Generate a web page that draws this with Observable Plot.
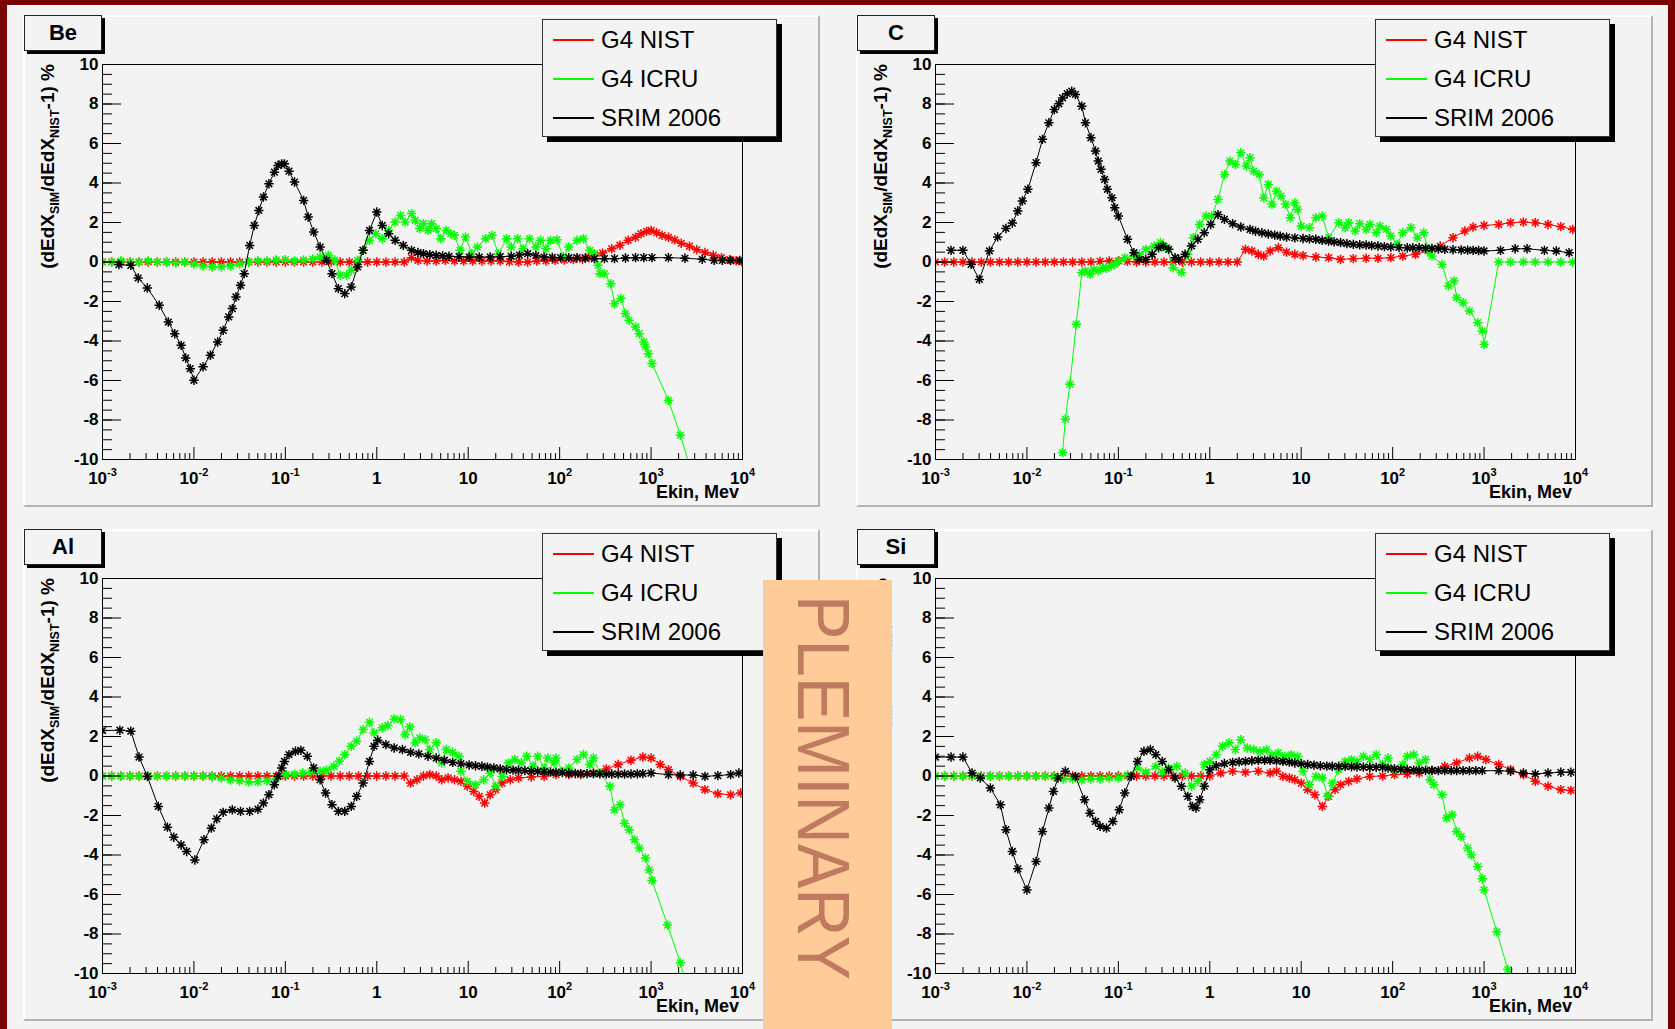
<!DOCTYPE html>
<html>
<head>
<meta charset="utf-8">
<script src="https://cdn.jsdelivr.net/npm/d3@7"></script>
<script src="https://cdn.jsdelivr.net/npm/@observablehq/plot@0.6"></script>
<style>
html,body{margin:0;padding:0;}
body{width:1675px;height:1029px;overflow:hidden;}
#page{position:relative;width:1675px;height:1029px;background:#f3f3f3;font-family:"Liberation Sans",Arial,Helvetica,sans-serif;overflow:hidden;}
.strip{position:absolute;background:#7b0000;}
.pad{position:absolute;width:797px;height:492px;box-sizing:border-box;border-top:2px solid #ffffff;border-left:2px solid #ffffff;border-right:2px solid #b3b3b3;border-bottom:2px solid #b3b3b3;}
.tag{position:absolute;width:78px;height:36px;box-sizing:border-box;border:1px solid #222;background:#f3f3f3;box-shadow:3px 3px 0 #000;font-weight:bold;font-size:22px;display:flex;align-items:center;justify-content:center;color:#000;}
.legend{position:absolute;width:235px;height:118px;box-sizing:border-box;border:1px solid #333;background:#f3f3f3;box-shadow:5px 5px 0 #000;}
.legend .ln{position:absolute;left:10px;width:41px;height:2px;}
.legend .tx{position:absolute;left:58px;transform:translateY(-50%);font-size:24px;line-height:1;white-space:nowrap;color:#000;}
#plem{position:absolute;left:763px;top:580px;width:129px;height:449px;background:#ffcc99;}
</style>
</head>
<body>
<div id="page"></div>
<script>
// ---------- chart content ----------
const panelNames = ["Be", "C", "Al", "Si"];
const seriesNames = ["G4 NIST", "G4 ICRU", "SRIM 2006"];
const seriesColors = ["#ff0000", "#00ff00", "#000000"];
const xMajor = [1e-3, 1e-2, 1e-1, 1, 10, 100, 1e3, 1e4];
const xMajorLabels = ["10^-3", "10^-2", "10^-1", "1", "10", "10^2", "10^3", "10^4"];
const yMajor = [-10, -8, -6, -4, -2, 0, 2, 4, 6, 8, 10];
const xTitle = "Ekin, Mev";
const overlayText = "PLEMINARY";

// each point: [log10(Ekin / MeV), (dEdX_SIM/dEdX_NIST - 1) in %]
const be_nist = [[-3.0,0],[-2.9,0],[-2.8,0],[-2.7,0],[-2.6,0],[-2.5,0],[-2.4,0],[-2.3,0],[-2.2,0],[-2.1,0],[-2.0,0],[-1.9,0],[-1.8,0],[-1.7,0],[-1.6,0],[-1.5,0],[-1.4,0],[-1.3,0],[-1.2,0],[-1.1,0],[-1.0,0],[-0.9,0],[-0.8,0],[-0.7,0],[-0.6,0],[-0.5,0],[-0.4,0],[-0.3,0],[-0.2,0],[-0.1,0],[0.0,0],[0.1,0],[0.2,0],[0.3,0],[0.38,0.22],[0.45,0.08],[0.55,0.05],[0.65,0.05],[0.75,0.08],[0.85,0.05],[0.95,0.05],[1.05,0.05],[1.15,0.05],[1.25,0.05],[1.35,0.05],[1.45,0.02],[1.55,0.0],[1.65,0.0],[1.75,0.05],[1.85,0.05],[1.95,0.08],[2.05,0.1],[2.15,0.12],[2.25,0.15],[2.32,0.22],[2.38,0.32],[2.47,0.45],[2.57,0.67],[2.66,0.85],[2.75,1.1],[2.83,1.25],[2.89,1.43],[2.95,1.55],[3.0,1.6],[3.06,1.48],[3.12,1.35],[3.19,1.25],[3.26,1.12],[3.33,0.95],[3.42,0.8],[3.5,0.62],[3.59,0.48],[3.68,0.34],[3.77,0.22],[3.86,0.12],[3.93,0.06],[3.99,0.02]];
const be_icru = [[-3.0,0],[-2.9,0],[-2.8,0.05],[-2.7,0],[-2.6,0],[-2.5,0.05],[-2.4,0],[-2.3,0],[-2.2,-0.05],[-2.1,0],[-2.0,-0.1],[-1.9,-0.2],[-1.8,-0.25],[-1.7,-0.25],[-1.6,-0.2],[-1.5,-0.1],[-1.4,0],[-1.3,0.05],[-1.2,0.05],[-1.1,0.1],[-1.0,0.12],[-0.9,0.05],[-0.8,0.1],[-0.7,0.15],[-0.62,0.25],[-0.53,0.34],[-0.46,0.1],[-0.40,-0.67],[-0.33,-0.67],[-0.28,-0.42],[-0.21,0.08],[-0.15,0.59],[-0.08,1.10],[-0.01,1.43],[0.06,1.18],[0.13,1.60],[0.20,2.02],[0.26,2.36],[0.31,2.02],[0.38,2.45],[0.42,2.11],[0.47,1.69],[0.51,1.94],[0.56,1.60],[0.60,1.94],[0.65,1.69],[0.70,1.18],[0.76,1.60],[0.81,1.43],[0.85,1.35],[0.91,0.59],[0.97,1.26],[1.04,0.42],[1.10,0.76],[1.19,1.18],[1.26,1.35],[1.33,0.42],[1.42,1.18],[1.47,0.76],[1.54,1.18],[1.60,0.67],[1.67,1.18],[1.74,0.76],[1.79,1.10],[1.85,0.67],[1.90,1.10],[1.97,1.13],[2.04,0.25],[2.10,0.76],[2.19,1.10],[2.26,1.18],[2.33,0.59],[2.38,0.42],[2.42,-0.17],[2.44,-0.59],[2.49,-0.59],[2.56,-1.10],[2.60,-2.11],[2.67,-1.85],[2.72,-2.61],[2.76,-2.95],[2.83,-3.29],[2.87,-3.63],[2.92,-4.05],[2.94,-4.30],[2.97,-4.64],[3.01,-5.14],[3.19,-7.0],[3.32,-8.77],[3.42,-10.3]];
const be_srim = [[-2.82,-0.13],[-2.69,-0.17],[-2.61,-0.81],[-2.51,-1.32],[-2.38,-2.19],[-2.28,-3.04],[-2.21,-3.63],[-2.14,-4.22],[-2.09,-4.86],[-2.04,-5.40],[-2.00,-5.99],[-1.90,-5.31],[-1.82,-4.72],[-1.74,-4.05],[-1.68,-3.46],[-1.62,-2.78],[-1.58,-2.36],[-1.54,-1.77],[-1.49,-1.18],[-1.45,-0.59],[-1.39,0.84],[-1.34,1.85],[-1.29,2.61],[-1.24,3.29],[-1.18,3.96],[-1.12,4.55],[-1.08,4.89],[-1.04,4.97],[-1.01,4.97],[-0.96,4.60],[-0.90,4.05],[-0.80,3.12],[-0.75,2.28],[-0.69,1.52],[-0.62,0.76],[-0.55,0.08],[-0.49,-0.59],[-0.42,-1.35],[-0.35,-1.60],[-0.28,-1.26],[-0.21,-0.25],[-0.15,0.59],[-0.08,1.60],[0.00,2.53],[0.06,1.85],[0.13,1.43],[0.20,1.10],[0.29,0.84],[0.38,0.59],[0.45,0.48],[0.51,0.42],[0.58,0.37],[0.65,0.34],[0.72,0.31],[0.79,0.29],[0.90,0.27],[1.01,0.25],[1.12,0.25],[1.24,0.25],[1.35,0.27],[1.47,0.29],[1.56,0.35],[1.65,0.42],[1.74,0.33],[1.83,0.25],[1.92,0.23],[2.01,0.22],[2.10,0.22],[2.19,0.22],[2.28,0.20],[2.38,0.17],[2.49,0.17],[2.60,0.17],[2.72,0.20],[2.83,0.22],[2.92,0.22],[3.01,0.22],[3.19,0.22],[3.37,0.19],[3.56,0.14],[3.69,0.08],[3.78,0.08],[3.87,0.08],[3.97,0.08]];

const c_nist = [[-3.0,0],[-2.9,0],[-2.8,0],[-2.7,0],[-2.6,0],[-2.5,0],[-2.4,0],[-2.3,0],[-2.2,0],[-2.1,0],[-2.0,0],[-1.9,0],[-1.8,0],[-1.7,0],[-1.6,0],[-1.5,0],[-1.4,0],[-1.3,0],[-1.2,0.03],[-1.1,0.05],[-1.0,0.05],[-0.9,0.03],[-0.8,0],[-0.7,0],[-0.6,0],[-0.5,0],[-0.4,0],[-0.3,0],[-0.2,0],[-0.1,0],[0.0,0],[0.1,0],[0.2,0],[0.3,0],[0.39,0.64],[0.46,0.56],[0.53,0.39],[0.59,0.30],[0.66,0.56],[0.75,0.72],[0.84,0.50],[0.93,0.39],[1.02,0.32],[1.16,0.25],[1.30,0.22],[1.43,0.13],[1.57,0.17],[1.71,0.19],[1.84,0.19],[1.98,0.22],[2.11,0.30],[2.25,0.39],[2.39,0.56],[2.52,0.81],[2.66,1.23],[2.79,1.57],[2.88,1.77],[3.00,1.85],[3.16,1.90],[3.29,1.99],[3.43,2.02],[3.56,1.99],[3.70,1.90],[3.84,1.79],[3.97,1.65]];
const c_icru = [[-1.61,-9.65],[-1.58,-7.96],[-1.53,-6.19],[-1.46,-3.15],[-1.40,-0.54],[-1.36,-0.45],[-1.31,-0.62],[-1.27,-0.37],[-1.22,-0.45],[-1.17,-0.29],[-1.13,-0.32],[-1.08,-0.20],[-1.04,-0.12],[-0.99,0.05],[-0.93,0.22],[-0.83,0.30],[-0.77,0.39],[-0.70,0.64],[-0.61,0.81],[-0.54,0.98],[-0.47,0.72],[-0.40,-0.29],[-0.31,-0.54],[-0.24,0.39],[-0.18,1.23],[-0.11,1.90],[-0.04,2.33],[0.02,2.33],[0.09,3.17],[0.16,4.43],[0.22,5.11],[0.28,4.94],[0.34,5.53],[0.40,4.86],[0.44,5.28],[0.48,4.60],[0.54,4.43],[0.59,3.25],[0.64,3.93],[0.68,2.92],[0.73,3.59],[0.78,3.34],[0.83,2.92],[0.88,2.24],[0.93,3.00],[0.96,2.66],[1.00,1.82],[1.09,1.74],[1.16,2.24],[1.23,2.33],[1.30,1.23],[1.41,1.99],[1.48,1.74],[1.52,1.99],[1.59,1.57],[1.64,1.94],[1.71,1.65],[1.75,1.90],[1.82,1.48],[1.86,1.82],[1.93,1.65],[1.98,1.32],[2.05,0.89],[2.11,1.48],[2.20,1.74],[2.27,1.23],[2.34,1.48],[2.39,0.56],[2.43,0.30],[2.54,-0.12],[2.61,-1.21],[2.67,-0.96],[2.70,-1.80],[2.77,-2.06],[2.84,-2.48],[2.93,-3.07],[2.98,-3.49],[3.00,-4.17],[3.16,0],[3.29,0],[3.43,0],[3.56,0],[3.70,0],[3.84,0],[3.97,0]];
const c_srim = [[-2.83,0.59],[-2.70,0.59],[-2.61,-0.12],[-2.52,-0.88],[-2.41,0.56],[-2.32,1.27],[-2.23,1.70],[-2.16,1.97],[-2.10,2.58],[-2.05,3.09],[-1.99,3.68],[-1.90,5.03],[-1.83,6.21],[-1.76,7.05],[-1.70,7.72],[-1.65,8.01],[-1.61,8.31],[-1.56,8.52],[-1.51,8.65],[-1.47,8.48],[-1.40,7.89],[-1.36,7.05],[-1.30,6.29],[-1.25,5.62],[-1.22,5.11],[-1.19,4.69],[-1.15,4.18],[-1.12,3.68],[-1.07,3.25],[-1.04,2.75],[-1.00,2.33],[-0.90,1.15],[-0.83,0.47],[-0.77,0.13],[-0.70,0.13],[-0.63,0.39],[-0.56,0.72],[-0.51,0.81],[-0.45,0.64],[-0.38,0.22],[-0.34,0.13],[-0.27,0.39],[-0.20,0.81],[-0.13,1.15],[-0.06,1.48],[0.01,1.90],[0.09,2.40],[0.16,2.16],[0.25,1.94],[0.34,1.77],[0.44,1.65],[0.50,1.56],[0.57,1.48],[0.64,1.42],[0.71,1.36],[0.77,1.31],[0.84,1.26],[0.93,1.22],[1.02,1.19],[1.09,1.17],[1.16,1.15],[1.23,1.10],[1.30,1.06],[1.36,1.02],[1.43,0.98],[1.50,0.93],[1.57,0.89],[1.64,0.87],[1.71,0.86],[1.77,0.83],[1.84,0.81],[1.91,0.78],[1.98,0.76],[2.07,0.74],[2.16,0.72],[2.22,0.72],[2.29,0.72],[2.36,0.70],[2.43,0.69],[2.50,0.66],[2.57,0.64],[2.66,0.62],[2.75,0.61],[2.82,0.60],[2.88,0.59],[2.94,0.58],[3.00,0.56],[3.18,0.59],[3.34,0.67],[3.47,0.67],[3.66,0.59],[3.79,0.56],[3.93,0.47]];

const al_nist = [[-3.0,0],[-2.9,0],[-2.8,0],[-2.7,0],[-2.6,0],[-2.5,0],[-2.4,0],[-2.3,0],[-2.2,0],[-2.1,0],[-2.0,0],[-1.9,0],[-1.8,0],[-1.7,0],[-1.6,0],[-1.5,0],[-1.4,0],[-1.3,0],[-1.2,0],[-1.1,0],[-1.0,0],[-0.9,0],[-0.8,0],[-0.7,0],[-0.6,0],[-0.5,0],[-0.4,0],[-0.3,0],[-0.2,0],[-0.1,0],[0.0,0],[0.1,0],[0.2,0],[0.3,0],[0.37,-0.36],[0.44,-0.19],[0.51,0.0],[0.58,0.07],[0.65,0.0],[0.71,-0.19],[0.78,-0.10],[0.85,-0.19],[0.92,-0.27],[0.99,-0.52],[1.06,-0.78],[1.12,-1.03],[1.18,-1.37],[1.24,-0.95],[1.30,-0.69],[1.37,-0.36],[1.46,-0.19],[1.55,-0.10],[1.69,-0.05],[1.83,-0.02],[1.96,0.07],[2.10,0.07],[2.23,0.07],[2.37,0.15],[2.51,0.36],[2.64,0.58],[2.78,0.80],[2.91,0.96],[3.00,0.91],[3.10,0.58],[3.19,0.32],[3.32,-0.02],[3.46,-0.36],[3.59,-0.69],[3.73,-0.90],[3.87,-0.95],[3.98,-0.86]];
const al_icru = [[-3.0,0],[-2.9,0],[-2.8,0],[-2.7,0],[-2.6,0],[-2.5,0],[-2.4,0],[-2.3,0],[-2.2,0],[-2.1,0],[-2.0,0],[-1.9,0],[-1.8,-0.05],[-1.7,-0.1],[-1.6,-0.2],[-1.5,-0.25],[-1.4,-0.3],[-1.3,-0.3],[-1.2,-0.25],[-1.1,-0.15],[-0.99,0.07],[-0.90,0.10],[-0.81,0.15],[-0.72,0.20],[-0.62,0.24],[-0.55,0.30],[-0.47,0.49],[-0.41,0.75],[-0.35,1.08],[-0.28,1.51],[-0.22,1.76],[-0.15,2.35],[-0.08,2.72],[-0.03,2.18],[0.06,2.44],[0.12,2.56],[0.19,2.89],[0.26,2.86],[0.31,2.10],[0.36,2.49],[0.42,1.68],[0.47,1.93],[0.53,1.84],[0.58,1.34],[0.65,1.68],[0.71,0.66],[0.76,1.34],[0.83,1.20],[0.90,1.00],[0.92,0.24],[0.99,-0.27],[1.08,-0.44],[1.17,-0.19],[1.24,0.15],[1.30,-0.52],[1.37,-0.02],[1.44,0.66],[1.51,0.83],[1.58,0.66],[1.64,1.00],[1.71,0.49],[1.76,1.00],[1.83,0.41],[1.87,0.91],[1.94,0.66],[1.96,0.91],[2.03,0.24],[2.10,0.41],[2.19,0.83],[2.26,1.08],[2.33,0.58],[2.37,0.91],[2.44,0.15],[2.55,-0.52],[2.60,-1.71],[2.66,-1.46],[2.71,-2.39],[2.76,-2.72],[2.82,-3.23],[2.87,-3.65],[2.94,-4.16],[2.98,-4.75],[3.01,-5.29],[3.18,-7.55],[3.32,-9.46],[3.38,-10.5]];
const al_srim = [[-3.0,2.3],[-2.81,2.32],[-2.69,2.27],[-2.60,0.96],[-2.51,-0.02],[-2.39,-1.54],[-2.29,-2.59],[-2.22,-3.10],[-2.14,-3.49],[-2.08,-3.82],[-1.99,-4.25],[-1.89,-3.23],[-1.81,-2.64],[-1.75,-2.17],[-1.68,-1.84],[-1.58,-1.71],[-1.49,-1.79],[-1.39,-1.79],[-1.30,-1.68],[-1.24,-1.37],[-1.18,-0.95],[-1.12,-0.44],[-1.08,-0.02],[-1.04,0.41],[-1.01,0.74],[-0.96,1.08],[-0.89,1.25],[-0.83,1.30],[-0.76,1.00],[-0.69,0.41],[-0.62,-0.19],[-0.56,-0.86],[-0.49,-1.45],[-0.42,-1.79],[-0.35,-1.79],[-0.28,-1.54],[-0.22,-1.03],[-0.15,-0.36],[-0.08,0.74],[-0.03,1.51],[0.01,1.81],[0.10,1.59],[0.19,1.42],[0.28,1.34],[0.37,1.20],[0.46,1.12],[0.56,1.00],[0.65,0.91],[0.74,0.80],[0.83,0.69],[0.92,0.63],[1.01,0.56],[1.08,0.52],[1.15,0.49],[1.21,0.45],[1.28,0.41],[1.35,0.36],[1.42,0.32],[1.49,0.30],[1.55,0.29],[1.62,0.27],[1.69,0.25],[1.76,0.23],[1.83,0.22],[1.90,0.20],[1.96,0.19],[2.03,0.17],[2.10,0.15],[2.17,0.13],[2.23,0.12],[2.30,0.12],[2.37,0.12],[2.44,0.11],[2.51,0.10],[2.57,0.10],[2.64,0.10],[2.71,0.10],[2.78,0.10],[2.85,0.11],[2.91,0.12],[3.00,0.15],[3.19,0.07],[3.32,0.05],[3.46,0.05],[3.59,-0.02],[3.73,0.02],[3.87,0.07],[3.96,0.15]];

const si_nist = [[-3.0,0],[-2.9,0],[-2.8,0],[-2.7,0],[-2.6,0],[-2.5,0],[-2.4,0],[-2.3,0],[-2.2,0],[-2.1,0],[-2.0,0],[-1.9,0],[-1.8,0],[-1.7,0],[-1.6,0],[-1.5,0],[-1.4,0],[-1.3,0],[-1.2,0],[-1.1,0],[-1.0,0],[-0.9,0],[-0.8,0],[-0.7,0],[-0.6,0],[-0.5,0],[-0.4,0],[-0.3,0],[-0.2,0],[-0.1,0],[0.0,0],[0.12,0.15],[0.25,0.24],[0.39,0.19],[0.53,0.24],[0.66,0.15],[0.73,0.24],[0.80,-0.02],[0.87,-0.10],[0.93,-0.19],[1.00,-0.36],[1.07,-0.69],[1.15,-0.95],[1.23,-1.54],[1.30,-1.03],[1.37,-0.69],[1.43,-0.44],[1.52,-0.27],[1.61,-0.15],[1.75,-0.02],[1.89,0.0],[2.02,0.07],[2.16,0.10],[2.29,0.15],[2.43,0.29],[2.57,0.49],[2.70,0.66],[2.84,0.91],[2.93,1.00],[3.02,0.83],[3.16,0.58],[3.29,0.32],[3.43,0.07],[3.56,-0.27],[3.70,-0.52],[3.84,-0.69],[3.95,-0.73]];
const si_icru = [[-3.0,0],[-2.9,0],[-2.8,0],[-2.7,0],[-2.6,0],[-2.5,0],[-2.4,0],[-2.3,0],[-2.2,0],[-2.1,0],[-2.0,0],[-1.9,0],[-1.8,0],[-1.7,-0.05],[-1.6,-0.15],[-1.5,-0.15],[-1.4,-0.2],[-1.3,-0.15],[-1.2,-0.15],[-1.1,-0.1],[-1.0,-0.1],[-0.9,0.05],[-0.79,0.41],[-0.70,0.20],[-0.59,0.49],[-0.52,0.20],[-0.45,0.41],[-0.36,0.49],[-0.27,0.15],[-0.20,-0.52],[-0.13,-0.27],[-0.06,0.58],[0.00,0.74],[0.07,1.08],[0.14,1.51],[0.21,1.68],[0.28,1.34],[0.34,1.84],[0.41,1.42],[0.48,1.34],[0.55,1.25],[0.62,1.34],[0.68,1.08],[0.75,1.17],[0.82,1.00],[0.89,1.08],[0.96,1.00],[1.02,0.24],[1.09,-0.44],[1.16,-0.02],[1.23,-0.10],[1.29,-1.03],[1.34,-0.36],[1.41,0.32],[1.48,0.74],[1.55,0.83],[1.61,0.74],[1.68,1.00],[1.75,0.83],[1.82,1.08],[1.89,0.58],[1.95,0.91],[2.02,0.32],[2.11,0.58],[2.16,1.00],[2.23,1.08],[2.29,0.66],[2.36,0.83],[2.41,-0.19],[2.45,-0.44],[2.54,-0.95],[2.59,-2.13],[2.65,-1.96],[2.70,-2.81],[2.75,-3.06],[2.82,-3.65],[2.86,-3.99],[2.93,-4.59],[2.98,-5.2],[3.00,-5.77],[3.14,-7.89],[3.26,-9.80],[3.30,-10.5]];
const si_srim = [[-3.0,0.96],[-2.83,0.96],[-2.70,0.96],[-2.60,0.15],[-2.51,-0.10],[-2.40,-0.61],[-2.29,-1.46],[-2.23,-2.72],[-2.16,-3.82],[-2.10,-4.70],[-2.00,-5.77],[-1.90,-4.33],[-1.83,-2.81],[-1.76,-1.62],[-1.71,-0.78],[-1.66,-0.10],[-1.58,0.24],[-1.47,-0.02],[-1.37,-1.20],[-1.31,-1.88],[-1.25,-2.30],[-1.20,-2.55],[-1.13,-2.64],[-1.06,-2.30],[-0.99,-1.71],[-0.93,-0.86],[-0.86,-0.02],[-0.79,0.74],[-0.72,1.25],[-0.65,1.34],[-0.59,1.08],[-0.52,0.74],[-0.45,0.32],[-0.38,-0.10],[-0.31,-0.52],[-0.24,-1.03],[-0.19,-1.54],[-0.15,-1.62],[-0.11,-1.20],[-0.06,-0.52],[0.00,0.32],[0.07,0.52],[0.16,0.63],[0.25,0.69],[0.32,0.72],[0.39,0.74],[0.46,0.77],[0.53,0.80],[0.60,0.80],[0.66,0.80],[0.73,0.77],[0.80,0.74],[0.87,0.70],[0.93,0.66],[1.00,0.62],[1.07,0.58],[1.14,0.55],[1.21,0.52],[1.28,0.50],[1.34,0.49],[1.41,0.49],[1.48,0.49],[1.55,0.47],[1.61,0.46],[1.68,0.45],[1.75,0.44],[1.82,0.44],[1.89,0.44],[1.95,0.40],[2.02,0.36],[2.09,0.34],[2.16,0.32],[2.23,0.30],[2.29,0.29],[2.36,0.28],[2.43,0.27],[2.50,0.27],[2.57,0.27],[2.64,0.27],[2.70,0.27],[2.77,0.27],[2.84,0.27],[2.91,0.27],[2.98,0.27],[3.16,0.27],[3.29,0.24],[3.43,0.15],[3.56,0.10],[3.70,0.15],[3.84,0.19],[3.95,0.19]];

// ---------- layout ----------
const PAD_W = 797, PAD_H = 492;
const M = {top: 49, right: 78, bottom: 48, left: 79};
const padPos = {Be: [23, 15], C: [856, 15], Al: [23, 529], Si: [856, 529]};
const panelData = {
  Be: [be_nist, be_icru, be_srim],
  C: [c_nist, c_icru, c_srim],
  Al: [al_nist, al_icru, al_srim],
  Si: [si_nist, si_icru, si_srim]
};

// asterisk marker with 8 arms (ROOT kStar)
const star = {
  draw(ctx, size) {
    const r = Math.sqrt(size / Math.PI);
    const d = r * Math.SQRT1_2;
    ctx.moveTo(-r, 0); ctx.lineTo(r, 0);
    ctx.moveTo(0, -r); ctx.lineTo(0, r);
    ctx.moveTo(-d, -d); ctx.lineTo(d, d);
    ctx.moveTo(-d, d); ctx.lineTo(d, -d);
  }
};

const xMinor = xMajor.slice(0, -1).flatMap(d => [2, 3, 4, 5, 6, 7, 8, 9].map(k => k * d));
const yMinor = d3.range(-10, 10.001, 0.5);

function makeChart(name) {
  const marks = [];
  panelData[name].forEach((arr, k) => {
    const rows = arr.map(([lg, v]) => ({series: seriesNames[k], E: Math.pow(10, lg), v}));
    marks.push(Plot.line(rows, {x: "E", y: "v", stroke: seriesColors[k], strokeWidth: 1, clip: true}));
    marks.push(Plot.dot(rows, {x: "E", y: "v", symbol: star, r: 4.7, fill: "none", stroke: seriesColors[k], strokeWidth: 1.5, clip: true}));
  });
  const chart = Plot.plot({
    width: PAD_W, height: PAD_H,
    marginTop: M.top, marginRight: M.right, marginBottom: M.bottom, marginLeft: M.left,
    x: {type: "log", domain: [1e-3, 1e4]},
    y: {domain: [-10, 10]},
    style: {background: "transparent", fontFamily: "'Liberation Sans', Arial, Helvetica, sans-serif", fontSize: "17px", fontWeight: "bold", color: "#000", overflow: "visible"},
    marks: [
      ...marks,
      Plot.frame({stroke: "#000", strokeWidth: 1}),
      Plot.axisX(xMinor, {tickSize: -6, fill: "none", label: null}),
      Plot.axisX(xMajor, {tickSize: -12, fill: "none", label: null}),
      Plot.axisX(xMajor, {tickSize: 0, tickPadding: 12, tickFormat: d => xMajorLabels[xMajor.indexOf(d)], label: null}),
      Plot.axisY(yMinor, {tickSize: -10, fill: "none", label: null}),
      Plot.axisY(yMajor, {tickSize: -19, fill: "none", label: null}),
      Plot.axisY(yMajor, {tickSize: 0, tickPadding: 4, tickFormat: d => String(d), label: null})
    ]
  });
  const svg = d3.select(chart);
  // superscript exponents on the x tick labels
  svg.selectAll('g[aria-label="x-axis tick label"] text').each(function () {
    const t = this.textContent;
    const m = t.match(/^10\^(.+)$/);
    if (m) {
      const s = d3.select(this);
      s.text("10");
      s.append("tspan").attr("dy", -8).attr("font-size", 11).text(m[1]);
    }
  });
  // x title
  svg.append("text")
    .attr("x", PAD_W - M.right - 3).attr("y", PAD_H - M.bottom + 39)
    .attr("text-anchor", "end").attr("font-size", 18).attr("font-weight", "bold")
    .text(xTitle);
  // y title with subscripts
  const tt = svg.append("text")
    .attr("transform", `translate(31,${M.top}) rotate(-90)`)
    .attr("text-anchor", "end").attr("font-size", 19).attr("font-weight", "bold");
  tt.append("tspan").text("(dEdX");
  tt.append("tspan").attr("font-size", 12.5).attr("dy", 5).text("SIM");
  tt.append("tspan").attr("dy", -5).text("/dEdX");
  tt.append("tspan").attr("font-size", 12.5).attr("dy", 5).text("NIST");
  tt.append("tspan").attr("dy", -5).text("-1) %");
  return chart;
}

const page = document.getElementById("page");
function addDiv(cls, css, text) {
  const d = document.createElement("div");
  if (cls) d.className = cls;
  if (css) d.style.cssText = css;
  if (text != null) d.textContent = text;
  page.appendChild(d);
  return d;
}

// outer dark-red frame
addDiv("strip", "left:0;top:0;width:1675px;height:5px;");
addDiv("", "position:absolute;left:0;top:5px;width:1675px;height:1px;background:#ffffff;");
addDiv("strip", "left:0;top:0;width:7px;height:1029px;");
addDiv("strip", "left:1668px;top:0;width:7px;height:1029px;");

panelNames.forEach(name => {
  const [L, T] = padPos[name];
  addDiv("pad", `left:${L}px;top:${T}px;`);
  const chart = makeChart(name);
  chart.style.position = "absolute";
  chart.style.left = L + "px";
  chart.style.top = T + "px";
  chart.style.maxWidth = "none";
  page.appendChild(chart);
  addDiv("tag", `left:${L + 1}px;top:${T}px;`, name);
  const lg = addDiv("legend", `left:${L + 519}px;top:${T + 4}px;`);
  const centers = [20, 59, 98];
  seriesNames.forEach((s, k) => {
    const ln = document.createElement("div");
    ln.className = "ln";
    ln.style.top = (centers[k] - 1) + "px";
    ln.style.background = seriesColors[k];
    lg.appendChild(ln);
    const tx = document.createElement("div");
    tx.className = "tx";
    tx.style.top = centers[k] + "px";
    tx.textContent = s;
    lg.appendChild(tx);
  });
});

// "PLEMINARY" sticker
const plem = addDiv("", "");
plem.id = "plem";
plem.innerHTML = `<svg width="129" height="449" style="display:block"><text transform="translate(35,15) rotate(90)" font-family="'Liberation Sans', Arial, sans-serif" font-size="75" fill="#c07a60" textLength="385" lengthAdjust="spacingAndGlyphs">${overlayText}</text></svg>`;
</script>
</body>
</html>
